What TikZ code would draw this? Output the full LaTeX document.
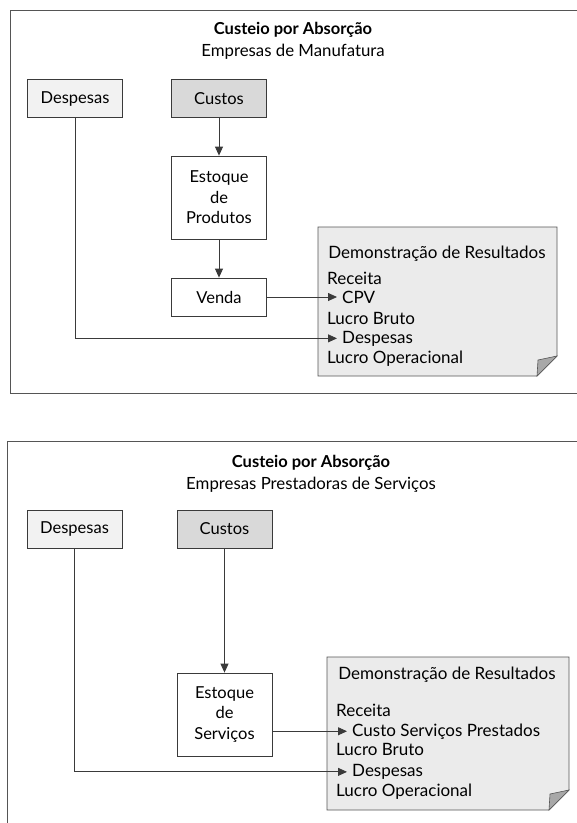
\documentclass[tikz,border=0pt]{standalone}
\usepackage{fontspec}
\setmainfont{Lato}
\usetikzlibrary{arrows.meta}
\definecolor{ln}{HTML}{3A3A3A}
\definecolor{fr}{HTML}{555555}
\definecolor{despfill}{HTML}{F2F2F2}
\definecolor{custfill}{HTML}{D9D9D9}
\definecolor{drfill}{HTML}{EBEBEB}
\definecolor{foldfill}{HTML}{A8A8A8}
\begin{document}
\begin{tikzpicture}[x=1pt,y=-1pt,
  font=\fontsize{16.5}{20.5}\selectfont,
  box/.style={draw=ln, line width=0.8pt, minimum width=95pt, minimum height=38pt, align=center, inner sep=2pt},
  arr/.style={draw=ln, line width=0.8pt, -{Triangle[length=9pt,width=8pt]}},
  conn/.style={draw=ln, line width=0.8pt},
  frameline/.style={draw=fr, line width=1pt},
  drbox/.style={draw=fr, line width=0.8pt, fill=drfill},
  fold/.style={draw=fr, line width=0.6pt, fill=foldfill},
  item/.style={anchor=base west, inner sep=0pt, font=\fontsize{17}{20}\selectfont},
  aitem/.style={anchor=base west, inner xsep=5pt, inner ysep=0pt, font=\fontsize{17}{20}\selectfont},
  drtitle/.style={anchor=base, font=\fontsize{17}{20}\selectfont},
  ttl/.style={font=\fontsize{16.5}{20}\selectfont\bfseries},
  sub/.style={font=\fontsize{16.8}{20}\selectfont}]
\useasboundingbox (0,0) rectangle (577,823);
\fill[white] (0,0) rectangle (577,823);

% ---------- Panel 1 ----------
\draw[frameline] (578,10) -- (10,10) -- (10,393) -- (578,393);
\node[ttl] (t1) at (293,30) {Custeio por Absorção};
\node[sub] (s1) at (293,52) {Empresas de Manufatura};

\node[box, fill=despfill] (desp1) at (75,98.5) {Despesas};
\node[box, fill=custfill] (cust1) at (219,98.5) {Custos};
\node[box, minimum height=83pt] (est1) at (219,197.5) {Estoque\\de\\Produtos};
\node[box] (venda1) at (219,297) {Venda};

\draw[drbox] (318,227) -- (557,227) -- (557,356) -- (537,376) -- (318,376) -- cycle;
\draw[fold] (537,376) -- (538,360) -- (557,356) -- cycle;

\node[drtitle] (dr1) at (437,258) {Demonstração de Resultados};
\node[item] (rec1) at (327,284) {Receita};
\node[aitem] (cpv1) at (337,303) {CPV};
\node[item] (lb1) at (327,324) {Lucro Bruto};
\node[aitem] (dsp1) at (337,343) {Despesas};
\node[item] (lo1) at (327,363) {Lucro Operacional};

\draw[arr] (cust1) -- (est1);
\draw[arr] (est1) -- (venda1);
\draw[arr] (venda1.east) -- (venda1.east -| cpv1.west);
\draw[arr] (desp1.south) |- (dsp1.west);

% ---------- Panel 2 ----------
\draw[frameline] (578,441) -- (7,441) -- (7,824);
\node[ttl] (t2) at (311,463) {Custeio por Absorção};
\node[sub] (s2) at (311,485) {Empresas Prestadoras de Serviços};

\node[box, fill=despfill] (desp2) at (74.5,529) {Despesas};
\node[box, fill=custfill] (cust2) at (224.5,529) {Custos};
\node[box, minimum height=83pt] (est2) at (224.5,714.5) {Estoque\\de\\Serviços};

\draw[drbox] (327,657) -- (569,657) -- (569,790) -- (549,810) -- (327,810) -- cycle;
\draw[fold] (549,810) -- (550,794) -- (569,790) -- cycle;

\node[drtitle] (dr2) at (447,679) {Demonstração de Resultados};
\node[item] (rec2) at (336,716) {Receita};
\node[aitem] (csp2) at (347,736) {Custo Serviços Prestados};
\node[item] (lb2) at (336,755) {Lucro Bruto};
\node[aitem] (dsp2) at (347,776.5) {Despesas};
\node[item] (lo2) at (336,796) {Lucro Operacional};

\draw[arr] (cust2) -- (est2);
\draw[arr] (est2.east |- csp2.west) -- (csp2.west);
\draw[arr] (desp2.south) |- (dsp2.west);
\end{tikzpicture}
\end{document}
